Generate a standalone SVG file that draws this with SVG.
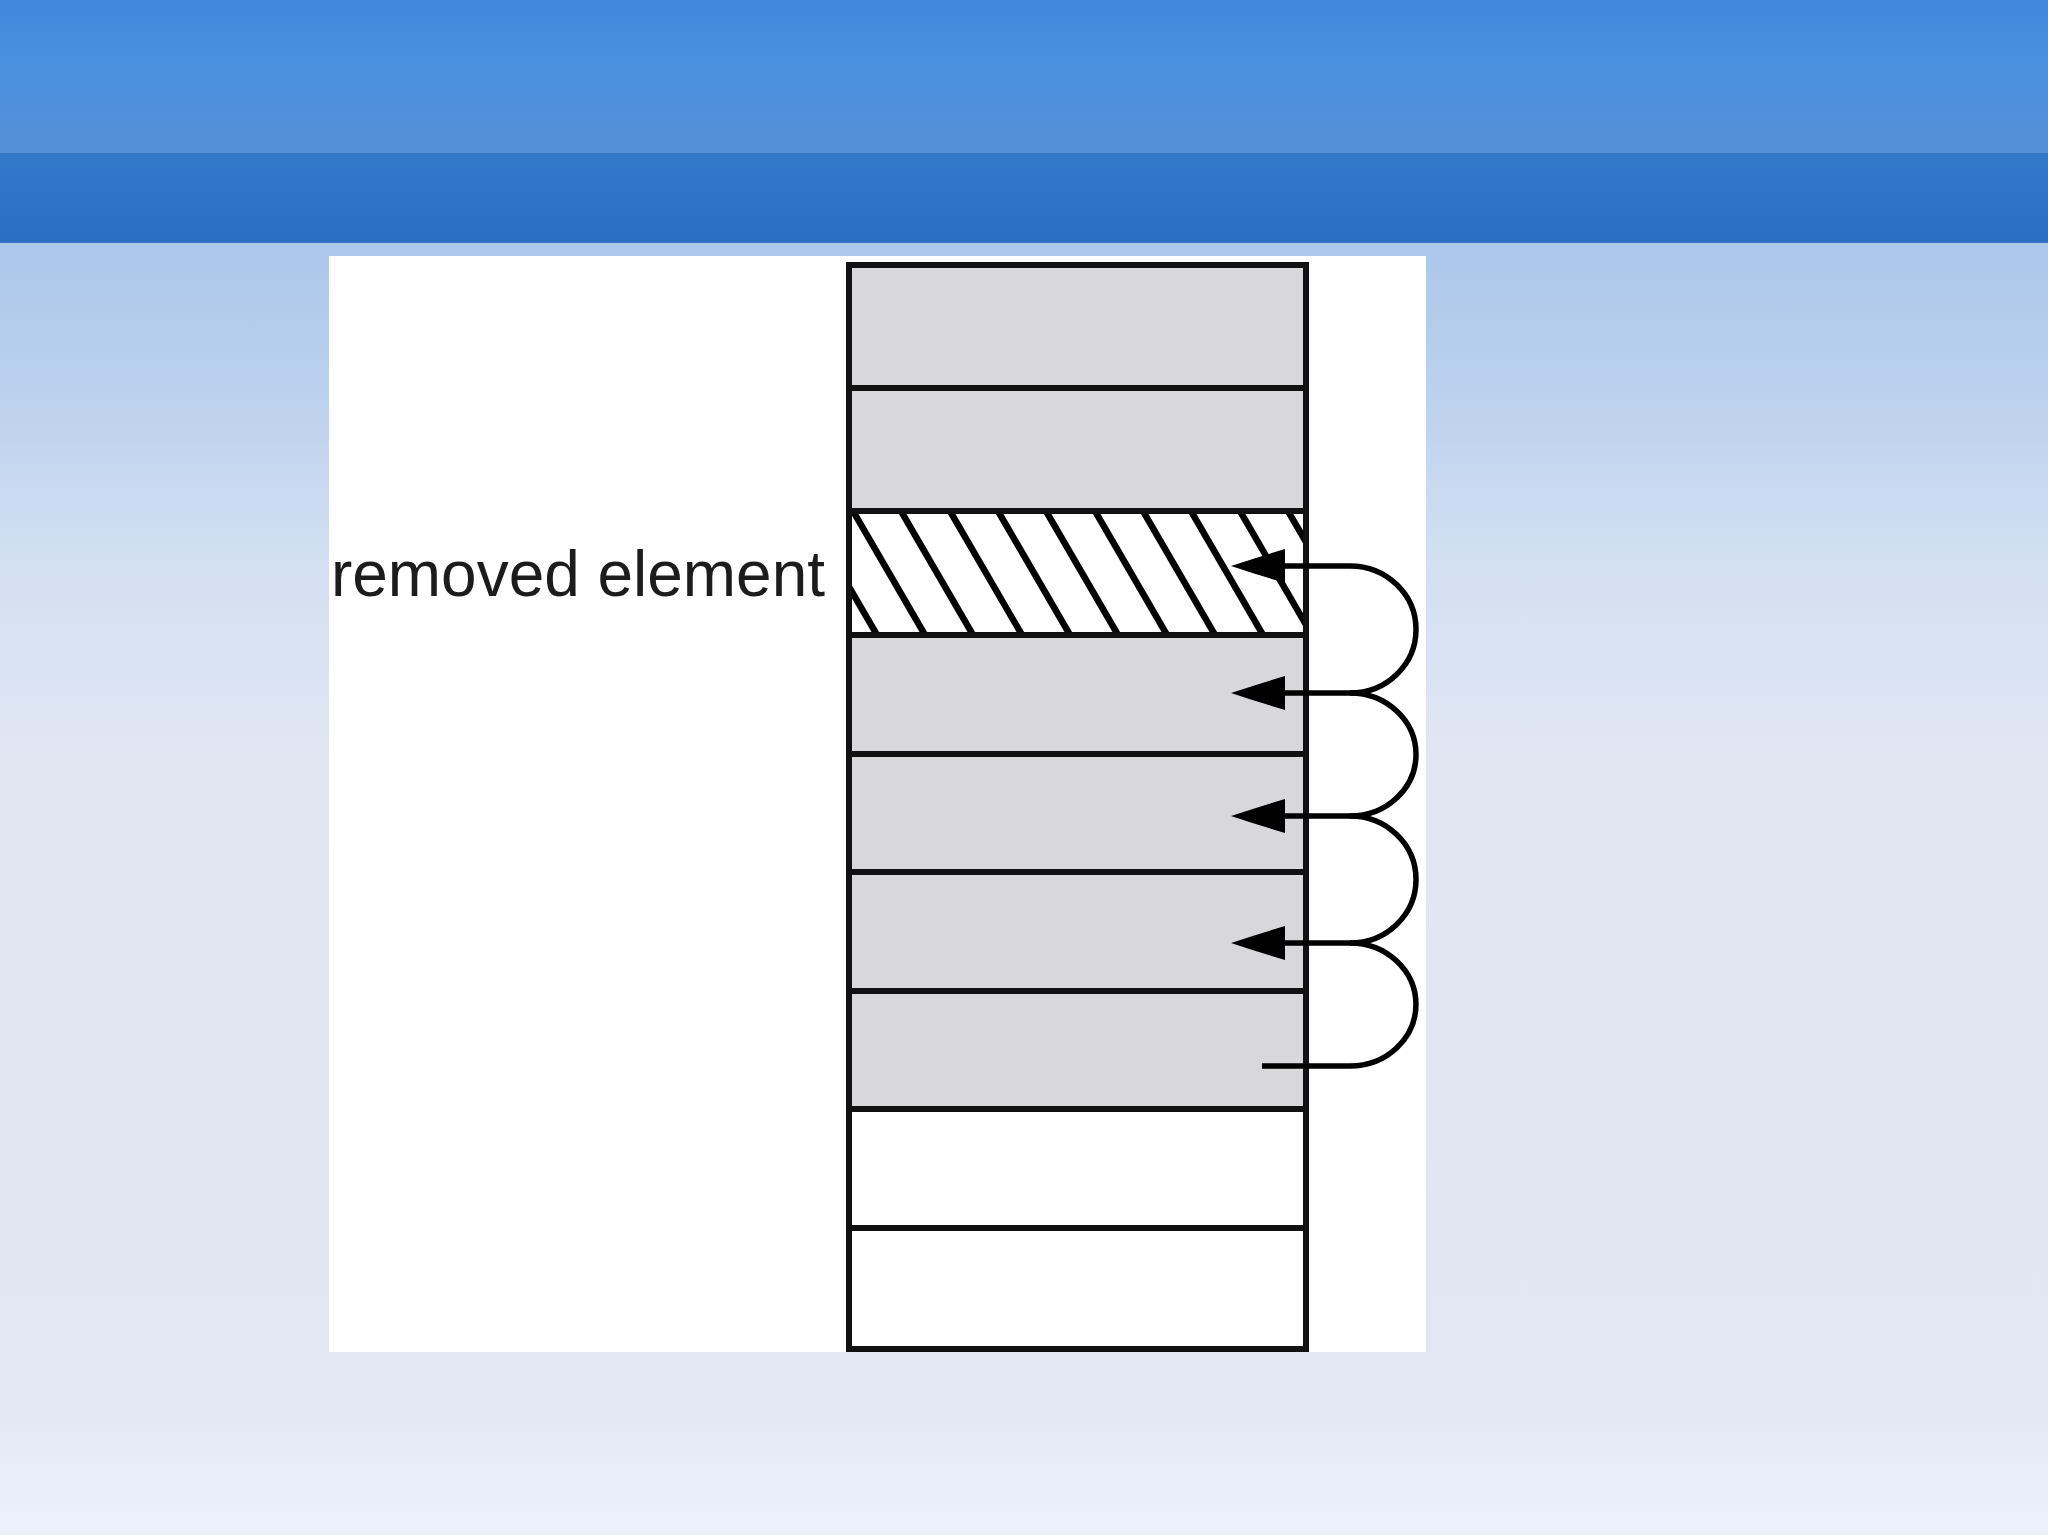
<svg xmlns="http://www.w3.org/2000/svg" width="2048" height="1535" viewBox="0 0 2048 1535">
  <defs>
    <linearGradient id="hdrTop" x1="0" y1="0" x2="0" y2="1">
      <stop offset="0" stop-color="#4088da"/>
      <stop offset="0.4" stop-color="#4a90e0"/>
      <stop offset="1" stop-color="#5690d6"/>
    </linearGradient>
    <linearGradient id="hdrBot" x1="0" y1="0" x2="0" y2="1">
      <stop offset="0" stop-color="#3379ca"/>
      <stop offset="1" stop-color="#2a6dc1"/>
    </linearGradient>
    <linearGradient id="body" gradientUnits="userSpaceOnUse" x1="0" y1="243" x2="0" y2="1535">
      <stop offset="0" stop-color="#abc7ea"/>
      <stop offset="0.12" stop-color="#bcd1ee"/>
      <stop offset="0.25" stop-color="#d3e0f2"/>
      <stop offset="0.4" stop-color="#e1e6f3"/>
      <stop offset="0.9" stop-color="#e3e7f4"/>
      <stop offset="1" stop-color="#ecf2fb"/>
    </linearGradient>
    <clipPath id="hatchClip">
      <rect x="851" y="511" width="455" height="124"/>
    </clipPath>
  </defs>
  <style>
    .cell { stroke: none; }
    .gray { fill: #d8d7da; }
    .white { fill: #ffffff; }
    .div { stroke: #111; stroke-width: 6; fill: none; }
    .hatch line { stroke: #000; stroke-width: 6.5; }
    .conn { fill: none; stroke: #000; stroke-width: 5.5; }
    .head { fill: #000; stroke: none; }
    .label { font-family: "Liberation Sans", Arial, sans-serif; font-size: 64px; fill: #1c1c1c; }
  </style>

  <!-- background -->
  <rect x="0" y="0" width="2048" height="1535" fill="url(#body)"/>
  <rect x="0" y="0" width="2048" height="153" fill="url(#hdrTop)"/>
  <rect x="0" y="153" width="2048" height="90" fill="url(#hdrBot)"/>
  <rect x="0" y="241" width="2048" height="2" fill="#3a78c4" opacity="0.6"/>

  <!-- white panel -->
  <rect x="329" y="256" width="1097" height="1096" fill="#ffffff"/>

  <g id="label">
    <text class="label" x="331" y="596" textLength="494" lengthAdjust="spacingAndGlyphs">removed element</text>
  </g>

  <g id="column">
    <g id="row1"><rect class="cell gray" x="849" y="265" width="457" height="123"/></g>
    <g id="row2"><rect class="cell gray" x="849" y="388" width="457" height="123"/></g>
    <g id="row3-removed">
      <rect class="cell white" x="849" y="511" width="457" height="124"/>
      <g class="hatch" clip-path="url(#hatchClip)">
        <line x1="756" y1="511" x2="828" y2="635"/>
        <line x1="805" y1="511" x2="877" y2="635"/>
        <line x1="853" y1="511" x2="925" y2="635"/>
        <line x1="901" y1="511" x2="973" y2="635"/>
        <line x1="950" y1="511" x2="1022" y2="635"/>
        <line x1="998" y1="511" x2="1070" y2="635"/>
        <line x1="1046" y1="511" x2="1118" y2="635"/>
        <line x1="1095" y1="511" x2="1167" y2="635"/>
        <line x1="1143" y1="511" x2="1215" y2="635"/>
        <line x1="1191" y1="511" x2="1263" y2="635"/>
        <line x1="1240" y1="511" x2="1312" y2="635"/>
        <line x1="1288" y1="511" x2="1360" y2="635"/>
      </g>
    </g>
    <g id="row4"><rect class="cell gray" x="849" y="635" width="457" height="119"/></g>
    <g id="row5"><rect class="cell gray" x="849" y="754" width="457" height="118"/></g>
    <g id="row6"><rect class="cell gray" x="849" y="872" width="457" height="119"/></g>
    <g id="row7"><rect class="cell gray" x="849" y="991" width="457" height="118"/></g>
    <g id="row8"><rect class="cell white" x="849" y="1109" width="457" height="119"/></g>
    <g id="row9"><rect class="cell white" x="849" y="1228" width="457" height="121"/></g>
    <g id="dividers">
      <line class="div" x1="849" y1="388" x2="1306" y2="388"/>
      <line class="div" x1="849" y1="511" x2="1306" y2="511"/>
      <line class="div" x1="849" y1="635" x2="1306" y2="635"/>
      <line class="div" x1="849" y1="754" x2="1306" y2="754"/>
      <line class="div" x1="849" y1="872" x2="1306" y2="872"/>
      <line class="div" x1="849" y1="991" x2="1306" y2="991"/>
      <line class="div" x1="849" y1="1109" x2="1306" y2="1109"/>
      <line class="div" x1="849" y1="1228" x2="1306" y2="1228"/>
      <rect class="div" x="849" y="265" width="457" height="1084"/>
    </g>
  </g>

  <g id="connectors">
    <path class="conn" d="M1262,1066 H1350 A66,61.5 0 0 0 1350,943 H1280"/>
    <path class="conn" d="M1350,943 A66,63.5 0 0 0 1350,816 H1280"/>
    <path class="conn" d="M1350,816 A66,61.5 0 0 0 1350,693 H1280"/>
    <path class="conn" d="M1350,693 A66,63.5 0 0 0 1350,566 H1280"/>
    <path class="head" d="M1231,943 Q1258,934 1285,926 L1285,960 Q1258,952 1231,943 Z"/>
    <path class="head" d="M1231,816 Q1258,807 1285,799 L1285,833 Q1258,825 1231,816 Z"/>
    <path class="head" d="M1231,693 Q1258,684 1285,676 L1285,710 Q1258,702 1231,693 Z"/>
    <path class="head" d="M1231,566 Q1258,557 1285,549 L1285,583 Q1258,575 1231,566 Z"/>
  </g>
</svg>
